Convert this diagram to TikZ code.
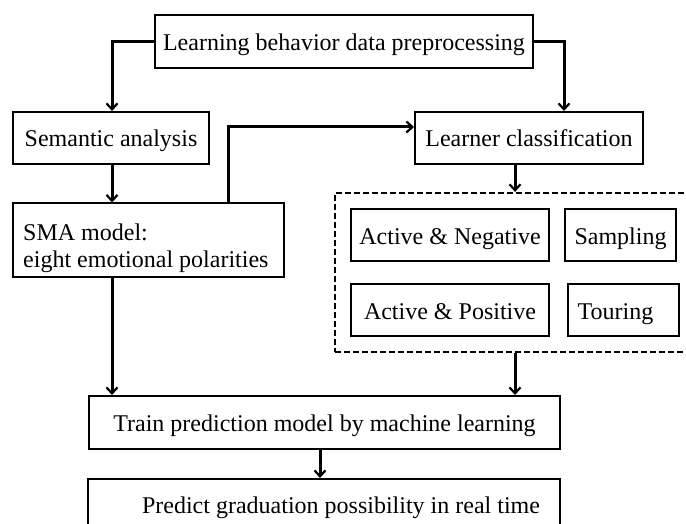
\documentclass[tikz,border=0pt]{standalone}
\usepackage{fontspec}
\setmainfont{Liberation Serif}
\usetikzlibrary{arrows.meta}

\tikzset{
  txt/.style={inner sep=0pt, font=\fontsize{24}{27}\selectfont,
              text height=24pt, text depth=6pt},
  box/.style={txt, draw=black, line width=2pt, align=center},
  conn/.style={line width=3pt, -{Straight Barb[length=6pt,width=11pt,line width=2.2pt]}},
  group/.style={draw=black, line width=2.2pt, dash pattern=on 6pt off 3pt}
}

\begin{document}
\begin{tikzpicture}[x=1pt,y=-1pt]
\useasboundingbox (0,0) rectangle (686,524);
\clip (0,0) rectangle (686,524);

% main flow boxes
\node[box, minimum width=378, minimum height=53] (prep) at (344,41.5)
  {Learning behavior data preprocessing};
\node[box, minimum width=196, minimum height=52] (sem) at (111,138)
  {Semantic analysis};
\node[box, minimum width=228, minimum height=52] (lrn) at (529,138)
  {Learner classification};
\node[draw=black, line width=2pt, inner sep=0pt, minimum width=271,
      minimum height=73] (sma) at (148.5,240) {};
\node[inner sep=0pt, font=\fontsize{24}{27}\selectfont, align=left, anchor=west]
  (smatxt) at (23,248) {SMA model:\\eight emotional polarities};
\node[box, minimum width=471, minimum height=53] (train) at (324.5,422.5)
  {Train prediction model by machine learning};
\node[draw=black, line width=2pt, minimum width=472, minimum height=50] (pred) at (324,504) {};
\node[txt] (predtxt) at (341,504) {Predict graduation possibility in real time};

% learner classes inside the dashed group
\node[group, minimum width=365, minimum height=159] (grp) at (517.5,272.5) {};
\node[box, minimum width=198, minimum height=52] (an) at (450,235)
  {Active \& Negative};
\node[box, minimum width=111, minimum height=52] (samp) at (620.5,235)
  {Sampling};
\node[box, minimum width=198, minimum height=52] (ap) at (450,310)
  {Active \& Positive};
\node[draw=black, line width=2pt, minimum width=111, minimum height=52] (tour) at (623.5,310) {};
\node[txt] (tourtxt) at (615.5,310) {Touring};

% connectors
\coordinate (jl) at (112,42);
\coordinate (jr) at (564,42);
\coordinate (ju) at (228,127);
\draw[conn] (prep.west |- jl) -- (jl) -- (jl |- sem.north);
\draw[conn] (prep.east |- jr) -- (jr) -- (jr |- lrn.north);
\draw[conn] (sem.south -| jl) -- (jl |- sma.north);
\draw[conn] (ju |- sma.north) -- (ju) -- (lrn.west |- ju);
\draw[conn] (lrn.south -| 515,0) -- (515,0 |- grp.north);
\draw[conn] (sma.south -| jl) -- (jl |- train.north);
\draw[conn] (grp.south -| 515,0) -- (515,0 |- train.north);
\draw[conn] (train.south -| 320,0) -- (320,0 |- pred.north);
\end{tikzpicture}
\end{document}
